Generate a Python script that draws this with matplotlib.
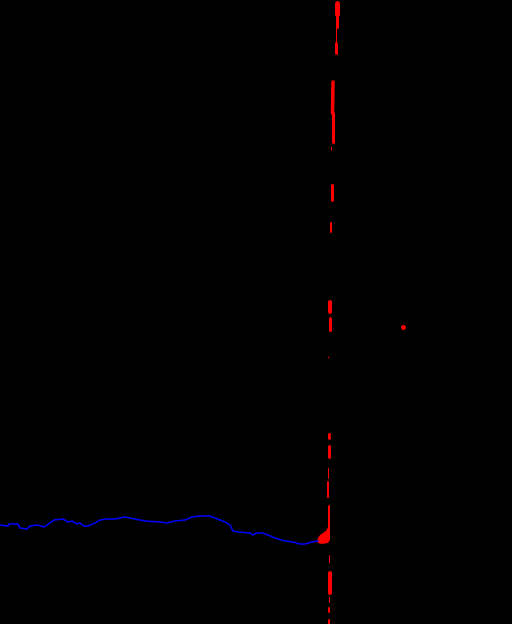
import matplotlib
matplotlib.use("Agg")
import matplotlib.pyplot as plt

# Blue track (x, y in image units)
blue_x = [0, 8, 9, 18, 20, 27, 30, 38, 44, 50, 54, 63, 68, 72, 77, 80, 84, 88, 95, 100,
          107, 115, 125, 135, 145, 160, 167, 175, 185, 192, 200, 210, 215, 225, 230, 233,
          238, 250, 253, 256, 262, 268, 275, 285, 293, 300, 305, 312, 318]
blue_y = [525, 526, 524, 524, 528, 529, 526, 525, 527, 523, 520, 519, 522, 521, 524, 523,
          526, 526, 523, 520, 519, 519, 517, 519, 521, 522, 523, 521, 520, 517, 516, 516,
          518, 522, 525, 531, 532, 533, 535, 533, 533, 535, 538, 541, 542, 544, 544, 542, 541]

# Red variable-width track: segment start/end and width (pixels)
red_x0 = [328.5, 328.5, 328.5, 329.5, 328.5, 328.5, 328, 328, 328.5, 328.5,
          330, 329.5, 331, 331.5, 331, 332.5, 332.5, 335.5, 336, 336.5, 336.8]
red_y0 = [620, 608, 602, 593, 562, 528, 497, 478, 457, 438,
          330, 312, 232, 200, 150, 142, 113, 53, 43, 27, 14]
red_x1 = [328.5, 328.5, 328.5, 329.5, 328.5, 328.5, 328, 328, 328.5, 328.5,
          330, 329.5, 331, 331.5, 331, 332.5, 333, 335.5, 336, 336.5, 336.8]
red_y1 = [624, 612, 597, 573, 555, 506, 482, 468, 446, 434,
          318, 302, 223, 185, 147, 113, 82, 43, 27, 14, 3]
red_w = [2, 2, 1, 4, 1, 2, 2, 1, 3, 3,
         3, 4, 2, 3, 1, 3, 3.5, 3, 1, 3, 5]

# Red blob where the two tracks meet
blob_x = [317, 318, 320, 323, 326, 328, 330, 330, 328, 322, 318]
blob_y = [541, 538, 535, 533, 531, 527, 523, 540, 543, 544, 543]

dot_x = [403, 328]
dot_y = [327, 357]
dot_s = [5, 1.5]

W, H = 512, 624
fig = plt.figure(figsize=(W / 100, H / 100), dpi=100, facecolor="black")
ax = fig.add_axes([0, 0, 1, 1])
ax.set_facecolor("black")
ax.set_xlim(0, W)
ax.set_ylim(H, 0)
ax.axis("off")

ax.plot(blue_x, blue_y, color="blue", lw=1.1, solid_joinstyle="round")

px2pt = 72 / 100
for x0, y0, x1, y1, w in zip(red_x0, red_y0, red_x1, red_y1, red_w):
    ax.plot([x0, x1], [y0, y1], color="red", lw=w * px2pt, solid_capstyle="round")

ax.fill(blob_x, blob_y, color="red", lw=0)

for x, y, s in zip(dot_x, dot_y, dot_s):
    ax.plot([x], [y], "o", color="red", ms=s * px2pt, mew=0)

fig.savefig("out.png", dpi=100, facecolor="black")
